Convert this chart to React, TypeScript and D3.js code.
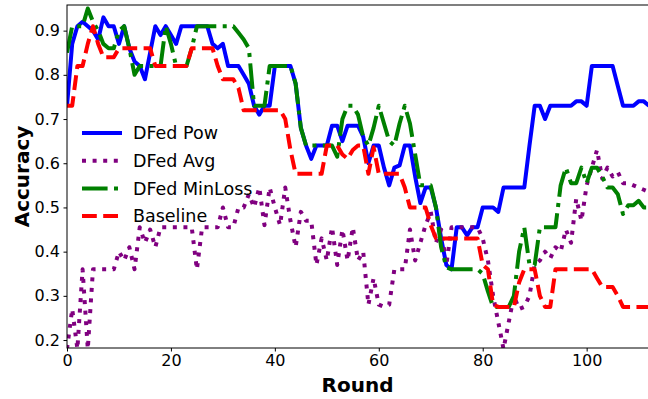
import { useEffect, useRef } from "react";
import * as d3 from "d3";

// accuracy per round (round 0..112)
const powAcc = [
  0.73, 0.87, 0.91, 0.92, 0.91, 0.9, 0.88, 0.93, 0.91, 0.91,
  0.87, 0.91, 0.86, 0.83, 0.82, 0.79, 0.85, 0.91, 0.89, 0.91,
  0.89, 0.87, 0.91, 0.91, 0.91, 0.91, 0.91, 0.91, 0.87, 0.86,
  0.87, 0.82, 0.82, 0.82, 0.8, 0.78, 0.73, 0.71, 0.73, 0.73,
  0.82, 0.82, 0.82, 0.82, 0.78, 0.68, 0.64, 0.61, 0.64, 0.64,
  0.64, 0.685, 0.685, 0.65, 0.685, 0.685, 0.685, 0.66, 0.6, 0.64,
  0.64, 0.59, 0.55, 0.59, 0.595, 0.64, 0.64, 0.57, 0.51, 0.545,
  0.545, 0.5, 0.43, 0.37, 0.36, 0.455, 0.455, 0.437, 0.455, 0.455,
  0.5, 0.5, 0.5, 0.49, 0.545, 0.545, 0.545, 0.545, 0.545, 0.64,
  0.73, 0.73, 0.7, 0.73, 0.73, 0.73, 0.73, 0.73, 0.74, 0.74,
  0.73, 0.82, 0.82, 0.82, 0.82, 0.82, 0.775, 0.73, 0.73, 0.73,
  0.74, 0.74, 0.73,
];

const avgAcc = [
  0.18, 0.27, 0.18, 0.36, 0.18, 0.36, 0.36, 0.36, 0.36, 0.36,
  0.4, 0.38, 0.41, 0.36, 0.455, 0.42, 0.45, 0.41, 0.455, 0.455,
  0.455, 0.455, 0.455, 0.455, 0.455, 0.36, 0.455, 0.455, 0.455, 0.455,
  0.5, 0.455, 0.455, 0.5, 0.5, 0.53, 0.5, 0.545, 0.46, 0.545,
  0.5, 0.46, 0.545, 0.47, 0.41, 0.49, 0.47, 0.47, 0.37, 0.43,
  0.38, 0.455, 0.37, 0.45, 0.38, 0.455, 0.38, 0.4, 0.28, 0.34,
  0.28, 0.275, 0.28, 0.36, 0.36, 0.36, 0.45, 0.38, 0.42, 0.46,
  0.49, 0.42, 0.45, 0.37, 0.455, 0.455, 0.455, 0.455, 0.455, 0.455,
  0.43, 0.38, 0.3, 0.24, 0.18, 0.24, 0.3, 0.27, 0.275, 0.3,
  0.37, 0.38, 0.4, 0.385, 0.41, 0.4, 0.45, 0.42, 0.52, 0.47,
  0.55, 0.59, 0.63, 0.565, 0.59, 0.57, 0.58, 0.555, 0.555, 0.55,
  0.545, 0.54, 0.535,
];

const minLossAcc = [
  0.85, 0.91, 0.91, 0.91, 0.95, 0.92, 0.9, 0.87, 0.86, 0.86,
  0.9, 0.91, 0.86, 0.8, 0.82, 0.82, 0.82, 0.82, 0.82, 0.91,
  0.87, 0.82, 0.82, 0.82, 0.86, 0.91, 0.91, 0.91, 0.91, 0.91,
  0.91, 0.91, 0.91, 0.895, 0.88, 0.86, 0.73, 0.73, 0.73, 0.82,
  0.82, 0.82, 0.82, 0.82, 0.78, 0.68, 0.64, 0.64, 0.64, 0.64,
  0.64, 0.64, 0.615, 0.7, 0.73, 0.73, 0.71, 0.66, 0.64, 0.68,
  0.73, 0.69, 0.65, 0.64, 0.69, 0.73, 0.69, 0.62, 0.55, 0.55,
  0.55, 0.5, 0.41, 0.365, 0.36, 0.36, 0.36, 0.36, 0.36, 0.36,
  0.35, 0.31, 0.275, 0.275, 0.275, 0.275, 0.3, 0.4, 0.455, 0.37,
  0.37, 0.455, 0.455, 0.455, 0.455, 0.55, 0.59, 0.555, 0.555, 0.59,
  0.555, 0.59, 0.59, 0.57, 0.545, 0.545, 0.53, 0.485, 0.505, 0.505,
  0.515, 0.5, 0.5,
];

const baselineAcc = [
  0.73, 0.73, 0.82, 0.82, 0.87, 0.91, 0.87, 0.84, 0.84, 0.84,
  0.86, 0.86, 0.86, 0.86, 0.86, 0.86, 0.86, 0.82, 0.82, 0.82,
  0.82, 0.82, 0.82, 0.82, 0.86, 0.86, 0.86, 0.86, 0.86, 0.82,
  0.79, 0.79, 0.79, 0.77, 0.72, 0.72, 0.72, 0.72, 0.72, 0.72,
  0.72, 0.72, 0.7, 0.63, 0.576, 0.576, 0.576, 0.576, 0.576, 0.576,
  0.64, 0.64, 0.64, 0.62, 0.61, 0.63, 0.64, 0.64, 0.576, 0.636,
  0.576, 0.576, 0.576, 0.576, 0.576, 0.545, 0.5, 0.5, 0.5, 0.5,
  0.46, 0.43, 0.43, 0.43, 0.43, 0.43, 0.43, 0.43, 0.43, 0.43,
  0.37, 0.36, 0.28, 0.275, 0.275, 0.275, 0.275, 0.33, 0.36, 0.36,
  0.36, 0.3, 0.275, 0.275, 0.36, 0.36, 0.36, 0.36, 0.36, 0.36,
  0.36, 0.36, 0.34, 0.32, 0.32, 0.32, 0.3, 0.275, 0.275, 0.275,
  0.275, 0.275, 0.275,
];

const seriesNames = ["DFed Pow", "DFed Avg", "DFed MinLoss", "Baseline"];
const xTicks = [0, 20, 40, 60, 80, 100];
const yTicks = [0.2, 0.3, 0.4, 0.5, 0.6, 0.7, 0.8, 0.9];

const App = () => {
  const svgRef = useRef(null);

  const width = 648;
  const height = 399;
  const left = 67;
  const right = 649;
  const top = 5;
  const bottom = 348;

  useEffect(() => {
    document.body.style.margin = "0";
    const svg = d3.select(svgRef.current);
    svg.selectAll("*").remove();

    const font = "DejaVu Sans, sans-serif";

    const xScale = d3.scaleLinear().domain([0, 112]).range([left, right]);
    const yScale = d3.scaleLinear().domain([0.182, 0.958]).range([bottom, top]);

    svg
      .append("rect")
      .attr("width", width)
      .attr("height", height)
      .attr("fill", "#fff");

    // clip lines to the axes box
    svg
      .append("clipPath")
      .attr("id", "plot-clip")
      .append("rect")
      .attr("x", left)
      .attr("y", top)
      .attr("width", right - left)
      .attr("height", bottom - top);

    const styles = [
      { color: "#0000ff", dash: null },
      { color: "#800080", dash: "4 6.6" },
      { color: "#008000", dash: "25.6 6.4 4 6.4" },
      { color: "#ff0000", dash: "14.8 6.4" },
    ];
    const allSeries = [powAcc, avgAcc, minLossAcc, baselineAcc];

    const line = d3
      .line<number>()
      .x((d, i) => xScale(i))
      .y((d) => yScale(d));

    const plot = svg.append("g").attr("clip-path", "url(#plot-clip)");
    allSeries.forEach((values, k) => {
      plot
        .append("path")
        .datum(values)
        .attr("d", line)
        .attr("fill", "none")
        .attr("stroke", styles[k].color)
        .attr("stroke-width", 4)
        .attr("stroke-linejoin", "round")
        .attr("stroke-dasharray", styles[k].dash);
    });

    // frame
    svg
      .append("rect")
      .attr("x", left)
      .attr("y", top)
      .attr("width", right - left)
      .attr("height", bottom - top)
      .attr("fill", "none")
      .attr("stroke", "#000")
      .attr("stroke-width", 1);

    // axes
    const xAxis = d3
      .axisBottom(xScale)
      .tickValues(xTicks)
      .tickSize(3.5)
      .tickSizeOuter(0)
      .tickPadding(3.5);
    const yAxis = d3
      .axisLeft(yScale)
      .tickValues(yTicks)
      .tickFormat(d3.format(".1f"))
      .tickSize(3.5)
      .tickSizeOuter(0)
      .tickPadding(3.5);

    const gx = svg
      .append("g")
      .attr("transform", `translate(0, ${bottom})`)
      .call(xAxis);
    const gy = svg.append("g").attr("transform", `translate(${left}, 0)`).call(yAxis);
    [gx, gy].forEach((g) => {
      g.select(".domain").remove();
      g.selectAll("text")
        .attr("font-family", font)
        .attr("font-size", 16)
        .attr("fill", "#000");
      g.selectAll("line").attr("stroke", "#000");
    });

    // axis labels
    svg
      .append("text")
      .attr("x", (left + 648) / 2)
      .attr("y", 392)
      .attr("text-anchor", "middle")
      .attr("font-family", font)
      .attr("font-weight", "bold")
      .attr("font-size", 20)
      .text("Round");
    svg
      .append("text")
      .attr("transform", `translate(29, ${(top + bottom) / 2}) rotate(-90)`)
      .attr("text-anchor", "middle")
      .attr("font-family", font)
      .attr("font-weight", "bold")
      .attr("font-size", 20)
      .text("Accuracy");

    // legend
    const legend = svg.append("g");
    seriesNames.forEach((name, k) => {
      const y = 133 + k * 27.7;
      legend
        .append("line")
        .attr("x1", 82)
        .attr("x2", 122)
        .attr("y1", y)
        .attr("y2", y)
        .attr("stroke", styles[k].color)
        .attr("stroke-width", 4)
        .attr("stroke-dasharray", styles[k].dash);
      legend
        .append("text")
        .attr("x", 133)
        .attr("y", y)
        .attr("dy", "0.35em")
        .attr("font-family", font)
        .attr("font-size", 17.5)
        .text(name);
    });
  }, []);

  return (
    <svg
      ref={svgRef}
      width={width}
      height={height}
      style={{ display: "block", position: "absolute", left: 0, top: 0 }}
    />
  );
};

export default App;
